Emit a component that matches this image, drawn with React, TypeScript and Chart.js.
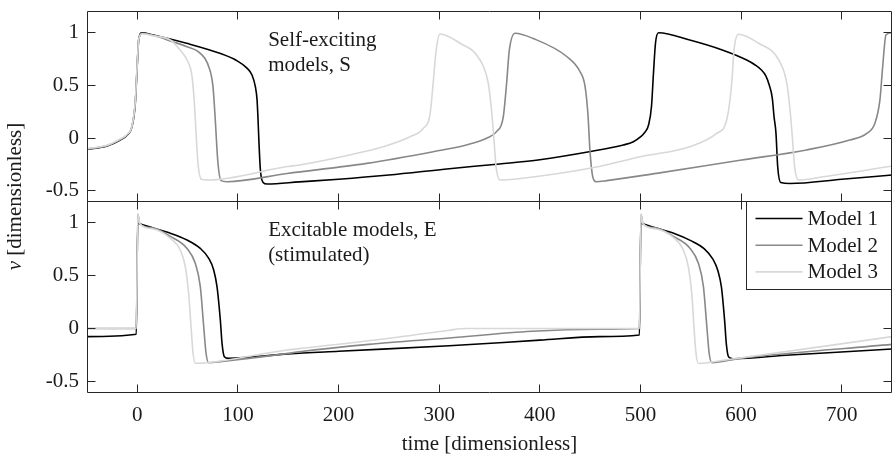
import { useEffect, useRef } from "react";
import { Chart, registerables } from "chart.js";

Chart.register(...registerables);

type Pt = [number, number];

// ---------- axes / labels ----------
const X_MIN = -50;
const X_MAX = 750;
const Y_MIN = -0.6;
const Y_MAX = 1.2;
const X_TICKS = [0, 100, 200, 300, 400, 500, 600, 700];
const Y_TICKS = [-0.5, 0, 0.5, 1];
const Y_TICK_LABELS = ["-0.5", "0", "0.5", "1"];
const X_TITLE = "time [dimensionless]";
const Y_TITLE_VAR = "v";
const Y_TITLE_REST = " [dimensionless]";
const ANNOTATION_TOP = ["Self-exciting", "models, S"];
const ANNOTATION_BOTTOM = ["Excitable models, E", "(stimulated)"];
const MODEL_NAMES = ["Model 1", "Model 2", "Model 3"];
const MODEL_COLORS = ["#000000", "#888888", "#d8d8d8"];

// ---------- top panel: self-exciting models (S) ----------
const S_MODEL1: Pt[] = [
  [-50, -0.107], [-30, -0.076], [-17, -0.019], [-10, 0.028], [-5.3, 0.107], [-2, 0.33],
  [-0.3, 0.64], [1.4, 0.93], [4.7, 0.995], [16, 0.973], [49, 0.895], [82, 0.8],
  [99, 0.73], [109, 0.66], [114, 0.595], [117.3, 0.485], [119, 0.36], [120, 0.17],
  [120.8, -0.02], [122.3, -0.3], [125, -0.42], [129, -0.435], [161, -0.415], [200, -0.39],
  [250, -0.35], [310, -0.29], [360, -0.245], [400, -0.205], [449, -0.13], [483, -0.066],
  [493, -0.035], [500, 0.01], [504, 0.05], [508, 0.12], [511, 0.3], [513, 0.62],
  [515, 0.9], [518, 0.995], [549, 0.926], [582, 0.83], [605.6, 0.737], [614, 0.69],
  [620, 0.645], [624.5, 0.59], [628, 0.5], [631, 0.38], [632.8, 0.2], [634.7, 0.044],
  [636.4, -0.27], [639.4, -0.42], [648.6, -0.43], [700, -0.39], [750, -0.35],
];

const S_MODEL2: Pt[] = [
  [-50, -0.105], [-30, -0.072], [-17, -0.015], [-10, 0.032], [-5.3, 0.11], [-2, 0.34],
  [-0.3, 0.65], [1.4, 0.93], [4.7, 0.99], [16, 0.97], [35, 0.91], [49.4, 0.863],
  [62.6, 0.8], [71, 0.674], [75.2, 0.485], [77.5, 0.17], [79.9, -0.21], [83.2, -0.403],
  [89, -0.413], [149, -0.335], [228, -0.24], [294, -0.13], [327, -0.066], [347, -0.003],
  [357, 0.06], [363.7, 0.2], [367, 0.517], [369.7, 0.83], [375.4, 0.99], [393.5, 0.94],
  [426.7, 0.77], [440, 0.626], [445, 0.485], [448, 0.2], [449.8, -0.115], [452.6, -0.366],
  [456, -0.413], [466.5, -0.403], [516, -0.334], [599, -0.21], [665, -0.113], [708, -0.019],
  [725, 0.044], [733, 0.139], [738, 0.36], [740.7, 0.67], [744, 0.973], [750, 0.995],
];

const S_MODEL3: Pt[] = [
  [-50, -0.1], [-30, -0.068], [-17, -0.01], [-10, 0.035], [-5.3, 0.115], [-2, 0.35],
  [-0.3, 0.66], [1.4, 0.93], [4.7, 0.985], [16, 0.965], [32.8, 0.926], [42.7, 0.83],
  [49.4, 0.737], [54.4, 0.58], [56.7, 0.33], [58.6, 0.012], [60.3, -0.24], [63.6, -0.39],
  [69.3, -0.397], [149, -0.27], [161, -0.255], [211, -0.16], [244.5, -0.082], [271, 0.012],
  [284, 0.09], [291, 0.23], [294, 0.517], [297, 0.83], [300.8, 0.983], [320.7, 0.895],
  [340.6, 0.737], [348.8, 0.517], [352, 0.265], [354.5, -0.02], [356.5, -0.27], [360.5, -0.397],
  [377, -0.387], [459, -0.27], [499.6, -0.177], [549, -0.082], [575.8, 0.044], [585.7, 0.17],
  [590.7, 0.517], [593, 0.83], [597.3, 0.98], [617.5, 0.895], [637.5, 0.737], [645.5, 0.517],
  [648.7, 0.265], [651.2, -0.02], [653.2, -0.27], [657, -0.397], [681.7, -0.366], [750, -0.265],
];

// ---------- bottom panel: excitable models (E), stimulated ----------
const E_MODEL1: Pt[] = [
  [-50, -0.077], [-1, -0.055], [0.4, 0.994], [3, 0.987], [16.3, 0.947], [32.8, 0.9],
  [49.4, 0.836], [62.6, 0.757], [71, 0.663], [75.9, 0.553], [79.2, 0.395], [82.5, 0.08],
  [84.2, -0.14], [86.5, -0.266], [90.8, -0.282], [150, -0.24], [200, -0.215], [310, -0.163],
  [400, -0.11], [459, -0.077], [499, -0.061], [500.4, 0.994], [503, 0.987], [516.5, 0.947],
  [533, 0.9], [550, 0.83], [563.5, 0.752], [572, 0.655], [577, 0.545], [580.5, 0.39],
  [583.7, 0.07], [585.4, -0.15], [587.7, -0.27], [592, -0.286], [648.6, -0.25], [750, -0.194],
];

const E_MODEL2: Pt[] = [
  [-50, 0], [-1, 0], [0.5, 1.08], [2.5, 0.99], [16, 0.95], [32.8, 0.87],
  [49.4, 0.757], [57.6, 0.616], [62.6, 0.395], [66, 0.017], [68.3, -0.234], [71, -0.323],
  [82.5, -0.313], [150, -0.235], [161, -0.22], [230, -0.15], [310, -0.09], [392, -0.026],
  [459, -0.007], [499, 0], [500.5, 1.08], [502.5, 0.99], [516, 0.95], [532.8, 0.87],
  [549.4, 0.757], [557.6, 0.616], [562.6, 0.395], [566, 0.017], [568.3, -0.234], [571, -0.323],
  [599, -0.282], [750, -0.15],
];

const E_MODEL3: Pt[] = [
  [-50, 0], [-1, 0], [0.5, 1.08], [2.5, 0.99], [16, 0.94], [32.8, 0.852],
  [42.7, 0.742], [47.7, 0.584], [51, 0.333], [53.4, 0.017], [55.4, -0.234], [57.6, -0.329],
  [69.3, -0.323], [148.8, -0.203], [161, -0.19], [260.6, -0.08], [310, -0.016], [326, 0],
  [499, 0], [500.5, 1.08], [502.5, 0.99], [516, 0.94], [532.7, 0.86], [542.6, 0.742],
  [547.6, 0.584], [551, 0.333], [553.2, 0.017], [555.2, -0.234], [557.5, -0.33], [582.4, -0.3],
  [750, -0.077],
];

const TOP_SERIES = [S_MODEL1, S_MODEL2, S_MODEL3];
const BOTTOM_SERIES = [E_MODEL1, E_MODEL2, E_MODEL3];

const FONT_FAMILY = "'Liberation Serif', 'Times New Roman', serif";
const FONT_SIZE = 21;
const AXIS_COLOR = "#262626";
const TEXT_COLOR = "#1a1a1a";
const TICK_LEN = 8;

const px = (v: number) => Math.floor(v) + 0.5;

const decorPlugin = {
  id: "decor",
  afterDraw(chart: any) {
    const ctx: CanvasRenderingContext2D = chart.ctx;
    const xs = chart.scales.x;
    const yTop = chart.scales.yTop;
    const yBot = chart.scales.yBot;
    ctx.save();

    // panel frames with inward ticks
    ctx.strokeStyle = AXIS_COLOR;
    ctx.lineWidth = 1;
    for (const ys of [yTop, yBot]) {
      const l = px(xs.left);
      const r = px(xs.right - 1);
      const t = px(ys.top);
      const b = px(ys.bottom);
      ctx.beginPath();
      ctx.rect(l, t, r - l, b - t);
      for (const v of X_TICKS) {
        const p = px(xs.getPixelForValue(v));
        ctx.moveTo(p, t);
        ctx.lineTo(p, t + TICK_LEN);
        ctx.moveTo(p, b);
        ctx.lineTo(p, b - TICK_LEN);
      }
      for (const v of Y_TICKS) {
        const p = px(ys.getPixelForValue(v));
        ctx.moveTo(l, p);
        ctx.lineTo(l + TICK_LEN, p);
        ctx.moveTo(r, p);
        ctx.lineTo(r - TICK_LEN, p);
      }
      ctx.stroke();
    }

    // annotations
    ctx.fillStyle = TEXT_COLOR;
    ctx.font = `${FONT_SIZE}px ${FONT_FAMILY}`;
    ctx.textAlign = "left";
    ctx.textBaseline = "alphabetic";
    const ax = xs.getPixelForValue(130);
    ANNOTATION_TOP.forEach((s, i) => {
      ctx.fillText(s, ax, yTop.getPixelForValue(0.87) + i * 25);
    });
    ANNOTATION_BOTTOM.forEach((s, i) => {
      ctx.fillText(s, ax, yBot.getPixelForValue(0.874) + i * 25);
    });

    // legend box (top-right of bottom panel)
    const boxW = 145;
    const boxH = 88;
    const bx = px(xs.right - 1) - boxW;
    const by = px(yBot.top);
    ctx.fillStyle = "#ffffff";
    ctx.fillRect(bx, by, boxW, boxH);
    ctx.strokeStyle = AXIS_COLOR;
    ctx.lineWidth = 1;
    ctx.strokeRect(bx, by, boxW, boxH);
    ctx.textBaseline = "middle";
    MODEL_NAMES.forEach((name, i) => {
      const yy = by + 17 + i * 26.7;
      ctx.strokeStyle = MODEL_COLORS[i];
      ctx.lineWidth = 1.6;
      ctx.beginPath();
      ctx.moveTo(bx + 9, yy);
      ctx.lineTo(bx + 56, yy);
      ctx.stroke();
      ctx.fillStyle = TEXT_COLOR;
      ctx.fillText(name, bx + 61, yy + 1);
    });

    // y-axis title spanning both panels
    const cy = (yTop.top + yBot.bottom) / 2 - 5;
    ctx.translate(15, cy);
    ctx.rotate(-Math.PI / 2);
    ctx.font = `italic ${FONT_SIZE}px ${FONT_FAMILY}`;
    const w1 = ctx.measureText(Y_TITLE_VAR).width;
    ctx.font = `${FONT_SIZE}px ${FONT_FAMILY}`;
    const w2 = ctx.measureText(Y_TITLE_REST).width;
    const start = -(w1 + w2) / 2;
    ctx.textAlign = "left";
    ctx.textBaseline = "middle";
    ctx.fillStyle = TEXT_COLOR;
    ctx.font = `italic ${FONT_SIZE}px ${FONT_FAMILY}`;
    ctx.fillText(Y_TITLE_VAR, start, 0);
    ctx.font = `${FONT_SIZE}px ${FONT_FAMILY}`;
    ctx.fillText(Y_TITLE_REST, start + w1, 0);

    ctx.restore();
  },
};

function makeDatasets() {
  const out: any[] = [];
  TOP_SERIES.forEach((s, i) => {
    out.push({
      label: `S ${MODEL_NAMES[i]}`,
      data: s.map(([x, y]) => ({ x, y })),
      borderColor: MODEL_COLORS[i],
      borderWidth: 1.6,
      pointRadius: 0,
      fill: false,
      cubicInterpolationMode: "monotone",
      xAxisID: "x",
      yAxisID: "yTop",
      order: 3 - i,
    });
  });
  BOTTOM_SERIES.forEach((s, i) => {
    out.push({
      label: `E ${MODEL_NAMES[i]}`,
      data: s.map(([x, y]) => ({ x, y })),
      borderColor: MODEL_COLORS[i],
      borderWidth: 1.6,
      pointRadius: 0,
      fill: false,
      cubicInterpolationMode: "monotone",
      xAxisID: "x",
      yAxisID: "yBot",
      order: 3 - i,
    });
  });
  return out;
}

function yAxis(weight: number) {
  return {
    type: "linear" as const,
    position: "left" as const,
    stack: "v",
    stackWeight: 1,
    weight,
    min: Y_MIN,
    max: Y_MAX,
    offset: false,
    grid: { display: false, drawTicks: false },
    border: { display: false },
    ticks: {
      padding: 8,
      color: TEXT_COLOR,
      font: { family: FONT_FAMILY, size: FONT_SIZE },
      callback: (v: number) => {
        const idx = Y_TICKS.indexOf(v);
        return idx >= 0 ? Y_TICK_LABELS[idx] : "";
      },
    },
    afterBuildTicks: (s: any) => {
      s.ticks = Y_TICKS.map((value) => ({ value }));
    },
    afterFit: (s: any) => {
      s.width = 87;
      s.paddingTop = 0;
      s.paddingBottom = 0;
      s.paddingLeft = 0;
      s.paddingRight = 0;
    },
  };
}

export default function App() {
  const ref = useRef<HTMLCanvasElement>(null);
  useEffect(() => {
    document.body.style.margin = "0";
    const chart = new Chart(ref.current as HTMLCanvasElement, {
      type: "line",
      data: { datasets: makeDatasets() },
      options: {
        animation: false,
        responsive: false,
        devicePixelRatio: 1,
        layout: { padding: { top: 11, left: 0, right: 0, bottom: 0 } },
        plugins: { legend: { display: false }, tooltip: { enabled: false } },
        scales: {
          x: {
            type: "linear",
            position: "bottom",
            min: X_MIN,
            max: X_MAX,
            grid: { display: false, drawTicks: false },
            border: { display: false },
            ticks: {
              padding: 11,
              autoSkip: false,
              maxRotation: 0,
              color: TEXT_COLOR,
              font: { family: FONT_FAMILY, size: FONT_SIZE },
              callback: (v: number) => String(v),
            },
            afterBuildTicks: (s: any) => {
              s.ticks = X_TICKS.map((value) => ({ value }));
            },
            afterFit: (s: any) => {
              s.height = 71;
              s.paddingTop = 0;
              s.paddingBottom = 0;
              s.paddingLeft = 0;
              s.paddingRight = 0;
            },
            title: {
              display: true,
              text: X_TITLE,
              color: TEXT_COLOR,
              font: { family: FONT_FAMILY, size: FONT_SIZE },
              padding: { top: 0, bottom: 6 },
            },
          },
          yBot: yAxis(0),
          yTop: yAxis(1),
        } as any,
      },
      plugins: [decorPlugin],
    });
    return () => chart.destroy();
  }, []);
  return (
    <div style={{ position: "absolute", left: 0, top: 0, width: 892, height: 463 }}>
      <canvas ref={ref} width={892} height={463} style={{ display: "block", width: 892, height: 463 }} />
    </div>
  );
}
